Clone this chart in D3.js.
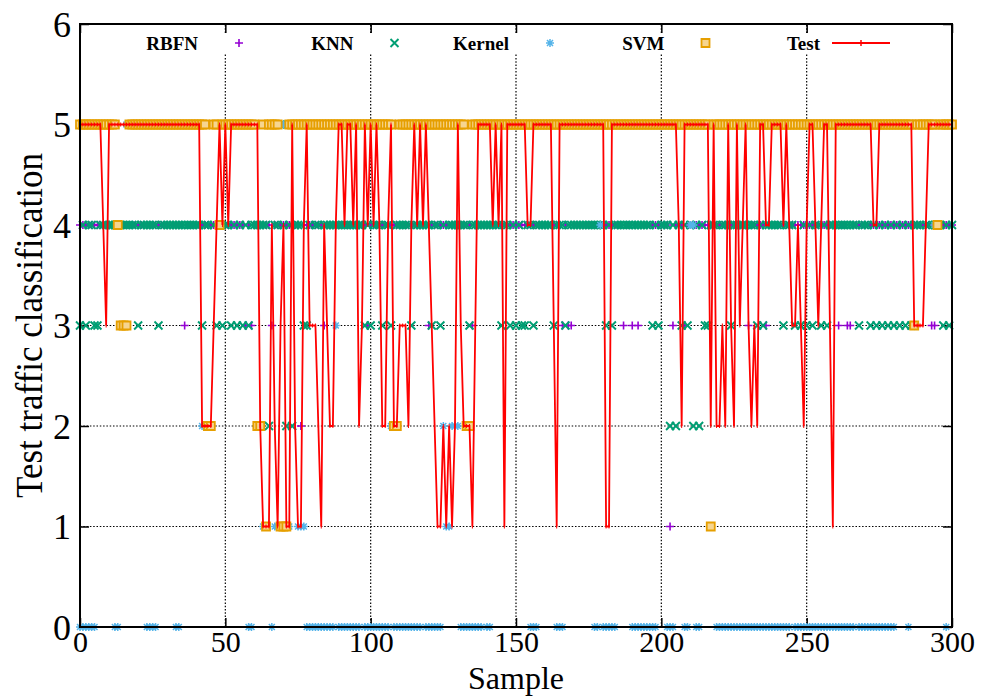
<!DOCTYPE html>
<html>
<head>
<meta charset="utf-8">
<script src="https://cdn.jsdelivr.net/npm/d3@7"></script>
<style>
  body { margin: 0; background: #fff; }
  svg { display: block; }
  text { font-family: "Liberation Serif", "DejaVu Serif", serif; fill: #000; }
</style>
</head>
<body>
<svg id="chart" width="985" height="697"></svg>
<script>
// Observed class of each test sample (index = sample number 0..300)
const testClass = [
  5,5,5,5,5,5,5,5,4,3,5,5,5,5,5,5,5,5,5,5,
  5,5,5,5,5,5,5,5,5,5,5,5,5,5,5,5,5,5,5,5,
  5,5,2,2,2,2,3,4,5,4,5,4,5,5,5,5,5,5,5,5,
  5,5,2,1,1,1,4,2,1,3,4,1,1,5,2,1,1,4,5,3,
  3,3,2,1,4,3,2,2,4,5,5,4,5,5,4,5,2,3,5,4,
  5,4,5,4,2,2,4,5,2,2,3,3,3,2,4,5,4,5,4,5,
  4,3,2,1,1,2,1,2,1,2,5,3,2,2,2,1,3,5,5,5,
  5,5,4,5,4,5,1,5,5,5,5,5,5,5,4,4,5,5,5,5,
  5,5,5,3,1,5,5,5,5,5,5,5,5,5,5,5,5,5,5,5,
  5,1,1,5,5,5,5,5,5,5,5,5,5,5,5,5,5,5,5,5,
  5,5,5,5,5,5,4,2,5,5,5,5,5,5,5,5,5,2,5,2,
  2,3,2,5,3,2,5,3,4,5,3,2,3,2,5,5,4,4,5,5,
  5,5,4,5,4,3,3,4,3,2,4,5,5,4,3,4,5,5,3,1,
  5,5,5,5,5,5,5,5,5,5,5,5,5,4,4,5,5,5,5,5,
  5,5,5,5,5,5,5,3,3,3,3,4,5,5,5,5,5,5,5,5,
  5
];

// RBFN predicted class per sample
const rbfnPred = [
  4,4,4,4,4,4,4,4,4,4,4,4,4,4,4,4,4,4,4,4,
  4,4,4,4,4,4,4,4,4,4,4,5,4,4,4,4,3,4,4,4,
  4,4,4,4,4,4,4,4,4,4,4,4,4,4,4,4,4,3,4,3,
  4,4,4,4,4,4,3,4,4,4,4,4,4,4,4,4,2,4,4,4,
  4,4,4,4,3,4,4,4,4,4,4,4,4,4,4,4,4,4,4,3,
  4,4,4,4,4,4,4,4,4,4,4,4,4,4,4,4,4,4,4,4,
  3,4,4,4,4,4,4,4,4,4,4,4,4,4,4,3,4,4,4,4,
  4,4,4,4,4,4,4,4,4,4,5,4,4,4,4,4,4,4,4,4,
  4,4,4,4,4,4,3,4,3,3,4,4,4,4,4,4,4,4,4,4,
  4,4,4,4,4,4,4,3,4,4,3,4,3,4,4,4,4,4,4,4,
  4,4,4,1,3,4,4,4,3,4,4,4,4,4,4,4,4,4,4,4,
  4,4,4,4,4,4,4,4,4,4,3,4,4,4,4,4,3,4,4,4,
  4,4,4,4,4,4,4,4,4,4,4,4,4,4,4,4,4,4,4,4,
  4,3,4,4,3,3,4,4,4,4,4,4,4,4,4,4,4,4,4,4,
  4,4,4,4,4,4,4,4,4,4,4,4,4,3,3,4,4,4,4,4,
  4
];

// KNN predicted class per sample
const knnPred = [
  3,4,3,4,4,3,3,4,4,4,4,4,4,4,4,4,4,4,4,4,
  3,4,4,4,4,4,4,3,4,4,4,4,4,4,4,4,4,4,4,4,
  4,4,3,4,4,5,4,3,4,3,4,4,3,4,3,4,3,4,3,4,
  4,4,4,4,4,2,5,4,4,5,4,2,4,2,4,4,4,3,3,4,
  5,4,4,5,4,4,4,4,4,4,4,4,4,4,4,4,4,4,3,4,
  3,4,4,4,3,4,4,3,5,4,4,4,4,4,3,4,4,4,4,4,
  4,3,4,4,3,4,5,4,4,4,4,4,4,4,3,4,4,4,4,4,
  4,4,4,4,4,3,4,4,3,4,3,4,3,3,4,4,3,4,4,4,
  4,4,4,3,4,4,4,3,4,4,4,4,4,4,4,4,4,4,4,4,
  4,3,4,3,4,4,4,4,4,4,4,4,4,4,4,4,4,3,4,3,
  4,4,4,2,4,2,4,3,4,3,4,2,4,2,4,3,3,4,4,4,
  5,4,4,4,3,4,4,4,4,4,4,4,4,3,4,3,4,4,4,4,
  4,4,3,4,4,4,3,5,3,4,3,4,3,4,4,3,4,3,4,4,
  4,4,4,4,4,4,4,4,3,4,4,4,3,4,3,4,3,4,3,4,
  3,4,3,4,3,4,3,4,4,4,5,4,4,5,4,4,4,3,4,3,
  4
];

// Kernel predicted class per sample
const kernelPred = [
  0,0,0,0,0,0,5,5,5,5,5,5,0,0,3,3,5,5,5,5,
  5,5,5,0,0,0,0,5,5,5,5,5,5,0,0,5,5,5,5,5,
  5,5,2,5,5,5,5,5,5,5,5,5,5,5,5,5,5,5,0,0,
  5,5,5,1,1,5,0,1,1,5,5,5,1,5,5,1,1,1,0,0,
  0,0,0,0,0,0,0,0,3,0,0,0,0,0,0,0,0,5,0,0,
  0,0,0,0,0,0,0,2,0,0,0,0,0,0,0,0,0,0,5,0,
  0,0,0,0,0,2,1,1,2,2,2,0,0,0,0,0,0,0,0,5,
  0,0,5,5,5,5,5,5,5,5,5,5,5,5,5,0,0,0,5,5,
  5,5,5,5,0,0,0,5,5,5,5,5,5,5,5,5,5,0,0,4,
  0,0,0,0,0,5,5,5,5,5,0,0,0,0,0,0,0,0,0,5,
  5,5,0,0,0,5,5,5,0,0,4,4,0,0,5,5,5,1,5,0,
  0,0,0,0,0,0,0,0,0,0,0,0,0,0,0,0,0,0,0,0,
  0,0,0,0,0,5,0,0,0,0,0,0,0,0,0,0,0,0,0,0,
  0,0,0,0,0,0,0,5,0,0,0,0,0,0,0,0,0,0,0,0,
  0,5,5,5,5,0,5,3,5,5,5,5,5,5,4,4,5,5,0,5,
  5
];

// SVM predicted class per sample
const svmPred = [
  5,5,5,5,5,5,5,5,5,5,5,5,5,4,3,3,3,5,5,5,
  5,5,5,5,5,5,5,5,5,5,5,5,5,5,5,5,5,5,5,5,
  5,5,5,5,2,2,5,5,4,5,5,5,5,5,5,5,5,5,5,5,
  5,2,2,5,1,5,5,5,5,1,1,1,5,5,5,5,5,5,5,5,
  5,5,5,5,5,5,5,5,5,5,5,5,5,5,5,5,5,5,5,5,
  5,5,5,5,5,5,5,5,2,2,5,5,5,5,5,5,5,5,5,5,
  5,5,5,5,5,5,5,5,5,5,5,5,5,2,2,5,5,5,5,5,
  5,5,5,5,5,5,5,5,5,5,5,5,5,5,5,5,5,5,5,5,
  5,5,5,5,5,5,5,5,5,5,5,5,5,5,5,5,5,5,5,5,
  5,5,5,5,5,5,5,5,5,5,5,5,5,5,5,5,5,5,5,5,
  5,5,5,5,5,5,5,5,5,5,5,5,5,5,5,5,5,1,5,5,
  5,5,5,5,5,5,5,5,5,5,5,5,5,5,5,5,5,5,5,5,
  5,5,5,5,5,5,5,5,5,5,5,5,5,5,5,5,5,5,5,5,
  5,5,5,5,5,5,5,5,5,5,5,5,5,5,5,5,5,5,5,5,
  5,5,5,5,5,5,5,3,5,5,5,5,5,5,5,4,5,5,5,5,
  5
];

const xTicks = [0, 50, 100, 150, 200, 250, 300];
const yTicks = [0, 1, 2, 3, 4, 5, 6];
const legendNames = ["RBFN", "KNN", "Kernel", "SVM", "Test"];

const svg = d3.select("#chart");
const x = d3.scaleLinear().domain([0, 300]).range([80, 952]);
const y = d3.scaleLinear().domain([0, 6]).range([627, 24]);

const colors = {
  RBFN: "#9400d3",
  KNN: "#009e73",
  Kernel: "#56b4e9",
  SVM: "#e69f00",
  Test: "#ff0000"
};

// marker shapes as stroked paths, centred on 0,0
const h = 4;
const shapes = {
  RBFN: `M${-h},0H${h}M0,${-h}V${h}`,
  KNN: `M${-h},${-h}L${h},${h}M${-h},${h}L${h},${-h}`,
  Kernel: `M${-h},0H${h}M0,${-h}V${h}M${-h*0.75},${-h*0.75}L${h*0.75},${h*0.75}M${-h*0.75},${h*0.75}L${h*0.75},${-h*0.75}`,
  SVM: `M${-h},${-h}H${h}V${h}H${-h}Z`,
  Test: `M0,-2V2`
};
const widths = { RBFN: 1.6, KNN: 1.9, Kernel: 1.5, SVM: 1.8, Test: 1 };
const fills = { SVM: "#f6d590" };

// ---- grid ----
const grid = svg.append("g").attr("stroke", "#000").attr("stroke-width", 1.2)
  .attr("stroke-dasharray", "1.5,1.8");
grid.selectAll("line.v").data(xTicks.slice(1, -1)).join("line")
  .attr("x1", d => x(d)).attr("x2", d => x(d))
  .attr("y1", y(0)).attr("y2", y(6));
grid.selectAll("line.h").data(yTicks.slice(1, -1)).join("line")
  .attr("x1", x(0)).attr("x2", x(300))
  .attr("y1", d => y(d)).attr("y2", d => y(d));

// ---- axes (ticks pointing inward) ----
const fmt = d3.format("d");
const gx = svg.append("g").attr("transform", `translate(0,${y(0)})`)
  .call(d3.axisBottom(x).tickValues(xTicks).tickFormat(fmt).tickSize(-9).tickPadding(5));
const gy = svg.append("g").attr("transform", `translate(${x(0)},0)`)
  .call(d3.axisLeft(y).tickValues(yTicks).tickFormat(fmt).tickSize(-9).tickPadding(9));
svg.append("g").attr("transform", `translate(0,${y(6)})`)
  .call(d3.axisTop(x).tickValues(xTicks).tickFormat("").tickSize(-9));
svg.append("g").attr("transform", `translate(${x(300)},0)`)
  .call(d3.axisRight(y).tickValues(yTicks).tickFormat("").tickSize(-9));
svg.selectAll(".domain").remove();
svg.selectAll(".tick line").attr("stroke", "#000").attr("stroke-width", 1.5);
gx.selectAll("text").attr("font-size", 30).attr("font-family", "Liberation Serif")
  .attr("dy", "0.67em");
gy.selectAll("text").attr("font-size", 36).attr("font-family", "Liberation Serif")
  .attr("dy", "0.34em");

// ---- legend band (covers grid) ----
svg.append("rect").attr("x", x(0) + 1).attr("y", 33).attr("width", x(300) - x(0) - 2)
  .attr("height", 20).attr("fill", "#fff");

// ---- classifier predictions ----
function drawSeries(name, values) {
  svg.append("g")
    .attr("fill", fills[name] || "none")
    .attr("stroke", colors[name])
    .attr("stroke-width", widths[name])
    .selectAll("path").data(values).join("path")
    .attr("d", shapes[name])
    .attr("transform", (d, i) => `translate(${x(i)},${y(d)})`);
}
drawSeries("RBFN", rbfnPred);
drawSeries("KNN", knnPred);
drawSeries("Kernel", kernelPred);
drawSeries("SVM", svmPred);

// ---- test trace ----
const line = d3.line().x((d, i) => x(i)).y(d => y(d));
svg.append("path").datum(testClass)
  .attr("fill", "none").attr("stroke", colors.Test).attr("stroke-width", 1.8)
  .attr("d", line);
drawSeries("Test", testClass);

// ---- frame ----
svg.append("rect").attr("x", x(0)).attr("y", y(6))
  .attr("width", x(300) - x(0)).attr("height", y(0) - y(6))
  .attr("fill", "none").attr("stroke", "#000").attr("stroke-width", 2);

// ---- legend ----
const lx = d3.scalePoint().domain(legendNames).range([198, 820]);
const ly = 43;
const leg = svg.append("g");
legendNames.forEach(name => {
  leg.append("text").attr("x", lx(name)).attr("y", ly).attr("dy", "0.35em")
    .attr("text-anchor", "end").attr("font-size", 19).attr("font-weight", "bold")
    .text(name);
  if (name === "Test") {
    leg.append("line").attr("x1", lx(name) + 12).attr("x2", lx(name) + 70)
      .attr("y1", ly).attr("y2", ly).attr("stroke", colors.Test).attr("stroke-width", 1.8);
    leg.append("path").attr("d", "M0,-3V3")
      .attr("transform", `translate(${lx(name) + 41},${ly})`)
      .attr("stroke", colors.Test).attr("stroke-width", 1.5);
  } else {
    leg.append("path").attr("d", shapes[name]).attr("fill", fills[name] || "none")
      .attr("transform", `translate(${lx(name) + 41},${ly})`)
      .attr("stroke", colors[name]).attr("stroke-width", widths[name]);
  }
});

// ---- axis titles ----
svg.append("text").attr("x", (x(0) + x(300)) / 2).attr("y", 689)
  .attr("text-anchor", "middle").attr("font-size", 32).text("Sample");
svg.append("text")
  .attr("transform", `translate(42,${(y(0) + y(6)) / 2}) rotate(-90)`)
  .attr("text-anchor", "middle").attr("font-size", 38)
  .attr("textLength", 345).attr("lengthAdjust", "spacingAndGlyphs")
  .text("Test traffic classification");
</script>
</body>
</html>
